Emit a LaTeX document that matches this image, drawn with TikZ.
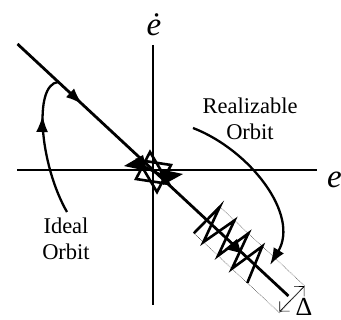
\documentclass[tikz,border=0pt]{standalone}
\usepackage{fontspec}
\setmainfont{Liberation Serif}
\usetikzlibrary{arrows.meta, decorations.markings}

\begin{document}
\begin{tikzpicture}[
    x=1pt, y=-1pt,
    axis/.style={line width=2.8pt},
    orbit/.style={line width=2.3pt},
    chatter/.style={line width=2.6pt, line join=miter},
    band/.style={densely dotted, line width=0.5pt},
    lbl/.style={font=\fontsize{22.5}{26}\selectfont, align=center, inner sep=0pt},
    axlbl/.style={font=\fontsize{33}{36}\selectfont\itshape, inner sep=0pt},
    midarrow/.style={postaction={decorate, decoration={markings,
        mark=at position #1 with {\arrow{Latex[length=17pt,width=12pt]}}}}},
    tip/.style={-{Latex[length=17pt,width=12pt]}}
]
\useasboundingbox (0,0) rectangle (341,320);

% Axes
\coordinate (O) at (153,170);
\coordinate (xl) at (17,170);
\coordinate (xr) at (317,170);
\coordinate (yt) at (153,45);
\coordinate (yb) at (153,305);
\draw[axis] (xl) -- (xr);
\draw[axis] (yt) -- (yb);
\node[axlbl, anchor=base] (edot) at (154,36) {ė};
\node[axlbl, anchor=base west] (elab) at (327,188) {e};

% Sliding line
\coordinate (dl) at (17.5,44);
\coordinate (dr) at (288.5,296);
\draw[axis, midarrow=0.24] (dl) -- (dr);

% Ideal orbit
\node[lbl] (ideal) at (66,239) {Ideal\\Orbit};
\coordinate (ia) at (67,212);
\coordinate (ib) at (58,82);
\draw[orbit, midarrow=0.72] (ia) .. controls (40,165) and (33,85) .. (ib);

% Realizable orbit
\node[lbl] (real) at (250,119) {Realizable\\Orbit};
\coordinate (ra) at (193,128);
\coordinate (rb) at (270,265);
\draw[orbit, tip] (ra) .. controls (250,150) and (300,215) .. (rb);

% Chattering at the origin
\draw[chatter] (150,152) -- (169,184) -- (136,179) -- cycle;
\draw[chatter] (157,192) -- (138,160) -- (171,165) -- cycle;
\draw[chatter] (143,166) -- (163,176);
\fill (124,166) -- (143,155) -- (147,171) -- cycle;
\fill (183,174) -- (163,185) -- (159,169) -- cycle;

% Boundary layer band
\begin{scope}[shift={(153,170)}, x={(0.7323pt,-0.681pt)}, y={(0.681pt,0.7323pt)}]
  \draw[band] (73,-18.5) -- (73,18.5) -- (190,18.5) -- (190,-18.5) -- cycle;
  \draw[chatter] (73,-18.5) -- (74,18.5) -- (86,-18.5) -- (94,18.5)
      -- (106,-18.5) -- (113,18.5) -- (125,-18.5) -- (132,18.5) -- (146,-18.5);
  \draw[line width=0.6pt, {Straight Barb[length=7pt,width=14pt]}-{Straight Barb[length=7pt,width=14pt]}]
      (189,-17.5) -- (190,18);
\end{scope}
\fill (225,249) -- (237,239) -- (241,253) -- cycle;
\node[font=\fontsize{26}{28}\selectfont, inner sep=0pt] (delta) at (304,307) {Δ};

\end{tikzpicture}
\end{document}
